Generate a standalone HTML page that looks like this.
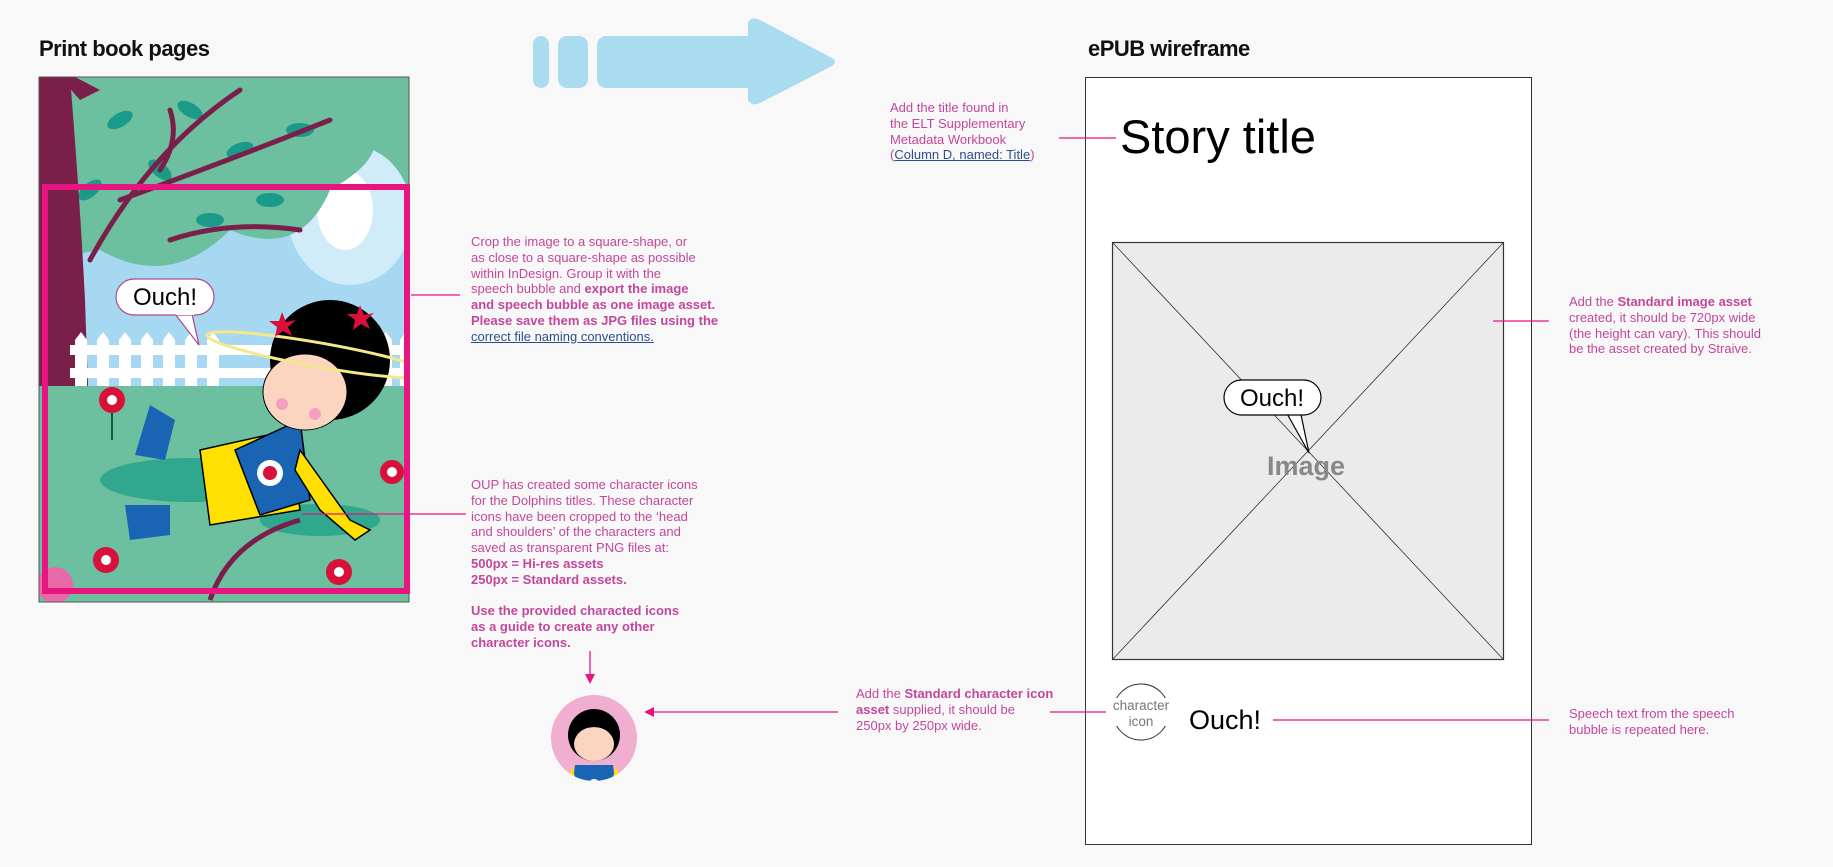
<!DOCTYPE html>
<html><head><meta charset="utf-8"><style>
html,body{margin:0;padding:0;background:#f8f8f8;}
body{width:1833px;height:867px;position:relative;overflow:hidden;font-family:"Liberation Sans",sans-serif;}
.h{position:absolute;font-family:"Liberation Sans",sans-serif;font-weight:bold;font-size:22px;color:#111;letter-spacing:-0.5px}
.t{position:absolute;color:#c2479c;font-size:13px;line-height:15.8px;white-space:nowrap}
.t b{font-weight:bold}
.lk{color:#2b4f8c;text-decoration:underline}
</style></head><body>
<div class="h" style="left:39px;top:36px">Print book pages</div>
<div class="h" style="left:1088px;top:36px">ePUB wireframe</div>

<svg width="1833" height="867" style="position:absolute;left:0;top:0">
<g fill="#aadcf0">
<rect x="533" y="36" width="16" height="52" rx="8"/>
<rect x="558" y="36" width="30" height="52" rx="9"/>
<rect x="597" y="36" width="160" height="52" rx="9"/>
<path d="M748 22 Q752 16 760 20 L832 58 Q838 62 832 66 L760 103 Q752 107 748 100 Z"/>
</g>
<clipPath id="pg"><rect x="39" y="77" width="370" height="525"/></clipPath>
<g clip-path="url(#pg)">
<rect x="39" y="77" width="370" height="525" fill="#a6d8f2"/>
<rect x="39" y="77" width="370" height="140" fill="#6cc0a0"/>
<ellipse cx="350" cy="215" rx="62" ry="70" fill="#d0ecf8"/>
<ellipse cx="345" cy="210" rx="28" ry="40" fill="#fff"/>
<path d="M39 77 H360 V120 Q400 150 330 190 Q300 260 230 230 Q170 290 100 250 L39 260 Z" fill="#6cc0a0"/>
<g fill="#1a9a88">
<ellipse cx="120" cy="120" rx="14" ry="7" transform="rotate(-30 120 120)"/><ellipse cx="190" cy="110" rx="14" ry="7" transform="rotate(30 190 110)"/>
<ellipse cx="240" cy="150" rx="14" ry="7" transform="rotate(-20 240 150)"/><ellipse cx="300" cy="130" rx="14" ry="7"/>
<ellipse cx="160" cy="170" rx="14" ry="7" transform="rotate(40 160 170)"/><ellipse cx="270" cy="200" rx="14" ry="7"/>
<ellipse cx="90" cy="190" rx="14" ry="7" transform="rotate(-40 90 190)"/><ellipse cx="210" cy="220" rx="14" ry="7"/>
</g>
<g stroke="#7a1f4a" fill="none" stroke-width="5" stroke-linecap="round">
<path d="M90 260 Q150 150 240 90"/><path d="M120 200 Q230 160 330 120"/><path d="M170 240 Q230 220 300 230"/>
<path d="M170 110 Q180 140 160 170"/>
</g>
<path d="M39 77 L70 77 Q80 200 85 300 Q90 450 95 545 L39 545 Z" fill="#7a1f4a"/>
<path d="M60 77 L75 77 L100 90 L80 100 Z" fill="#7a1f4a"/>
<g fill="#fff">
<rect x="70" y="345" width="340" height="10"/><rect x="70" y="368" width="340" height="10"/>
<path d="M75 386 V340 l6 -8 6 8 V386Z M97 386 V340 l6 -8 6 8 V386Z M119 386 V340 l6 -8 6 8 V386Z M141 386 V340 l6 -8 6 8 V386Z M163 386 V340 l6 -8 6 8 V386Z M185 386 V340 l6 -8 6 8 V386Z M207 386 V340 l6 -8 6 8 V386Z M380 386 V340 l6 -8 6 8 V386Z M400 386 V340 l6 -8 6 8 V386Z"/>
</g>
<rect x="39" y="386" width="370" height="216" fill="#6cc0a0"/>
<ellipse cx="190" cy="480" rx="90" ry="22" fill="#2fa88e"/>
<ellipse cx="320" cy="520" rx="60" ry="16" fill="#2fa88e"/>
<path d="M210 600 Q230 540 300 520" stroke="#7a1f4a" stroke-width="5" fill="none"/>
<g><circle cx="112" cy="400" r="13" fill="#d8103a"/><circle cx="112" cy="400" r="5" fill="#fff"/><path d="M112 413 V440" stroke="#0a5a4a" stroke-width="2"/></g>
<g><circle cx="392" cy="472" r="12" fill="#d8103a"/><circle cx="392" cy="472" r="5" fill="#fff"/></g>
<g><circle cx="106" cy="560" r="13" fill="#d8103a"/><circle cx="106" cy="560" r="5" fill="#fff"/></g>
<g><circle cx="339" cy="572" r="13" fill="#d8103a"/><circle cx="339" cy="572" r="5" fill="#fff"/></g>
<circle cx="55" cy="585" r="18" fill="#e86aa8"/>
<path d="M150 405 L135 455 L165 460 L175 420 Z" fill="#1a64b4"/>
<path d="M125 505 L130 540 L170 535 L170 505 Z" fill="#1a64b4"/>
<path d="M200 450 L290 430 L300 510 L210 525 Z" fill="#ffe000" stroke="#000" stroke-width="1.5"/>
<path d="M235 450 L300 420 L310 500 L260 515 Z" fill="#1a64b4" stroke="#000" stroke-width="1.5"/>
<path d="M300 450 L350 520 L370 530 L355 540 L320 510 L295 470 Z" fill="#ffe000" stroke="#000" stroke-width="1.5"/>
<circle cx="270" cy="473" r="13" fill="#fff"/><circle cx="270" cy="473" r="7" fill="#d8103a"/>
<circle cx="330" cy="360" r="60" fill="#000"/>
<ellipse cx="305" cy="392" rx="42" ry="38" fill="#fbd5bf" stroke="#000"/>
<path d="M280 350 Q330 300 380 380 Q330 340 280 360Z" fill="#000"/>
<ellipse cx="320" cy="355" rx="115" ry="12" fill="none" stroke="#f5e88a" stroke-width="3" transform="rotate(10 320 355)"/>
<circle cx="282" cy="404" r="6" fill="#f3a0c0"/><circle cx="315" cy="414" r="6" fill="#f3a0c0"/>
<path d="M282 312 l4 10 10 -2 -8 7 4 9 -9 -5 -8 6 2 -10 -8 -6 10 0Z" fill="#d8103a"/>
<path d="M360 305 l4 10 10 -2 -8 7 4 9 -9 -5 -8 6 2 -10 -8 -6 10 0Z" fill="#d8103a"/>
</g>
<rect x="39" y="77" width="370" height="525" fill="none" stroke="#555" stroke-width="1"/>
<path d="M175 314 L199 345 L192 314" fill="#fff" stroke="#b0478c" stroke-width="1.2"/>
<rect x="116" y="279" width="98" height="36" rx="18" fill="#fff" stroke="#b0478c" stroke-width="1.2"/>
<rect x="176" y="310" width="18" height="5" fill="#fff"/>
<text x="165" y="305" font-family="Liberation Sans,sans-serif" font-size="24" text-anchor="middle" fill="#000">Ouch!</text>
<rect x="45" y="187" width="362" height="404" fill="none" stroke="#e8147f" stroke-width="6"/>
<circle cx="594" cy="738" r="43" fill="#f0aed0"/>
<clipPath id="cc"><circle cx="594" cy="738" r="43"/></clipPath>
<g clip-path="url(#cc)">
<path d="M572 790 L575 765 L613 765 L616 790Z" fill="#1a64b4"/>
<path d="M566 790 L572 765 L578 790Z M622 790 L616 765 L610 790Z" fill="#ffe000"/>
<circle cx="594" cy="735" r="26" fill="#000"/>
<ellipse cx="594" cy="744" rx="20" ry="17" fill="#fbd5bf"/>
<path d="M572 732 Q594 712 616 732 Q594 722 572 732Z" fill="#000"/>
<circle cx="594" cy="785" r="6" fill="#fff"/><circle cx="594" cy="785" r="3" fill="#d8103a"/>
</g>
<rect x="1085.5" y="77.5" width="446" height="767" fill="#fff" stroke="#333" stroke-width="1"/>
<text x="1120" y="153" font-family="Liberation Sans,sans-serif" font-size="47" fill="#000">Story title</text>
<rect x="1112.5" y="242.5" width="391" height="417" fill="#ebebeb" stroke="#333" stroke-width="1.2"/>
<line x1="1113" y1="243" x2="1503" y2="659" stroke="#333" stroke-width="0.8"/>
<line x1="1503" y1="243" x2="1113" y2="659" stroke="#333" stroke-width="0.8"/>
<text x="1306" y="475" font-family="Liberation Sans,sans-serif" font-size="27" font-weight="bold" fill="#888" text-anchor="middle">Image</text>
<path d="M1285 410 L1309 453 L1300 410" fill="#fff" stroke="#000" stroke-width="1.2"/>
<rect x="1224" y="380" width="97" height="35" rx="17.5" fill="#fff" stroke="#000" stroke-width="1.2"/>
<rect x="1287" y="408" width="12" height="6" fill="#fff"/>
<text x="1272" y="406" font-family="Liberation Sans,sans-serif" font-size="24" text-anchor="middle" fill="#000">Ouch!</text>
<circle cx="1141" cy="712" r="28" fill="#fff" stroke="#333" stroke-width="1"/>
<rect x="1110" y="698" width="62" height="28" fill="#fff"/>
<text x="1141" y="710" font-family="Liberation Sans,sans-serif" font-size="13.5" text-anchor="middle" fill="#777">character</text>
<text x="1141" y="726" font-family="Liberation Sans,sans-serif" font-size="13.5" text-anchor="middle" fill="#777">icon</text>
<text x="1189" y="729" font-family="Liberation Sans,sans-serif" font-size="27" fill="#000">Ouch!</text>
<g stroke="#e8147f" stroke-width="1.3" fill="none">
<line x1="411" y1="295" x2="460" y2="295"/>
<line x1="302" y1="514" x2="466" y2="514"/>
<line x1="590" y1="651" x2="590" y2="676"/>
<line x1="652" y1="712" x2="838" y2="712"/>
<line x1="1050" y1="712" x2="1106" y2="712"/>
<line x1="1059" y1="138" x2="1116" y2="138"/>
<line x1="1493" y1="321" x2="1549" y2="321"/>
<line x1="1273" y1="720" x2="1549" y2="720"/>
</g>
<path d="M585 674 L595 674 L590 684Z" fill="#e8147f"/>
<path d="M644 712 L654 707 L654 717Z" fill="#e8147f"/>
</svg>

<div class="t" style="left:471px;top:234px">Crop the image to a square-shape, or<br>as close to a square-shape as possible<br>within InDesign. Group it with the<br>speech bubble and <b>export the image</b><br><b>and speech bubble as one image asset.</b><br><b>Please save them as JPG files using the</b><br><span class="lk">correct file naming conventions.</span></div>
<div class="t" style="left:471px;top:477px">OUP has created some character icons<br>for the Dolphins titles. These character<br>icons have been cropped to the ‘head<br>and shoulders’ of the characters and<br>saved as transparent PNG files at:<br><b>500px = Hi-res assets</b><br><b>250px = Standard assets.</b><br><br><b>Use the provided characted icons</b><br><b>as a guide to create any other</b><br><b>character icons.</b></div>
<div class="t" style="left:856px;top:686px">Add the <b>Standard character icon</b><br><b>asset</b> supplied, it should be<br>250px by 250px wide.</div>
<div class="t" style="left:890px;top:100px">Add the title found in<br>the ELT Supplementary<br>Metadata Workbook<br>(<span class="lk">Column D, named: Title</span>)</div>
<div class="t" style="left:1569px;top:294px">Add the <b>Standard image asset</b><br>created, it should be 720px wide<br>(the height can vary). This should<br>be the asset created by Straive.</div>
<div class="t" style="left:1569px;top:706px">Speech text from the speech<br>bubble is repeated here.</div>
</body></html>
